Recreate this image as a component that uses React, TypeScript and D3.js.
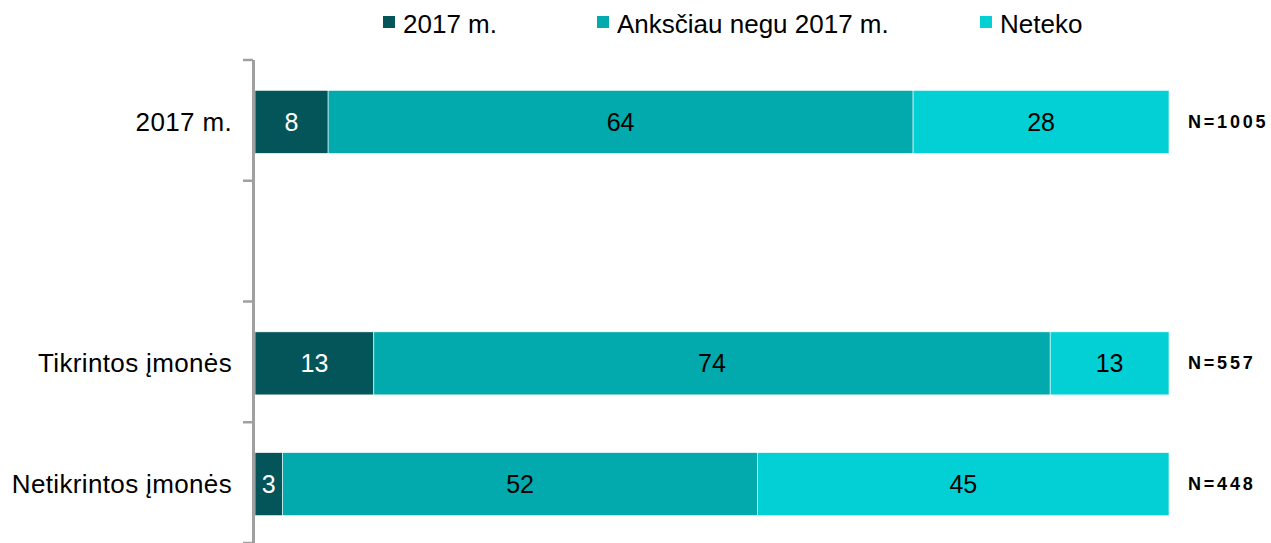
import React from "react";
import * as d3 from "d3";

const categories = ["2017 m.", "", "Tikrintos įmonės", "Netikrintos įmonės"];
const seriesNames = ["2017 m.", "Anksčiau negu 2017 m.", "Neteko"];
const seriesColors = ["#03555A", "#02A9AD", "#03D0D5"];
const labelColors = ["#ffffff", "#000000", "#000000"];
const values2017 = [8, 13, 3];
const valuesEarlier = [64, 74, 52];
const valuesNone = [28, 13, 45];
const barCategories = ["2017 m.", "Tikrintos įmonės", "Netikrintos įmonės"];
const nLabels = ["N=1005", "N=557", "N=448"];

const W = 1271;
const H = 543;
const FONT = "'Liberation Sans', Arial, sans-serif";

export default function App() {
  const x = d3.scaleLinear().domain([0, 100]).range([255, 1169]);
  const y = d3
    .scaleBand<string>()
    .domain(categories.map((c, i) => String(i)))
    .range([60, 543])
    .paddingInner(0.478)
    .paddingOuter(0.239);

  const rows = barCategories.map((c, i) => ({
    cat: c,
    idx: categories.indexOf(c),
    a: values2017[i],
    b: valuesEarlier[i],
    c2: valuesNone[i],
    n: nLabels[i],
  }));
  const stack = d3.stack<any>().keys(["a", "b", "c2"])(rows);

  const step = y.step();
  const boundaries = d3.range(categories.length + 1).map((i) => 60 + i * step);

  const legendX = [383, 597, 980];

  return (
    <svg
      width={W}
      height={H}
      style={{ position: "absolute", left: 0, top: 0, background: "#fff" }}
      fontFamily={FONT}
    >
      {/* legend */}
      {seriesNames.map((s, i) => (
        <g key={s}>
          <rect x={legendX[i]} y={16} width={12} height={12} fill={seriesColors[i]} />
          <text x={legendX[i] + 20} y={33} fontSize={26} fill="#000">
            {s}
          </text>
        </g>
      ))}

      {/* bars */}
      {stack.map((layer, si) =>
        layer.map((d: any, ri: number) => {
          const row = rows[ri];
          const yy = (y(String(row.idx)) as number) + 1.5;
          const x0 = x(d[0]);
          const x1 = x(d[1]);
          const v = d[1] - d[0];
          return (
            <g key={si + "-" + ri}>
              <rect
                x={x0}
                y={yy}
                width={x1 - x0}
                height={y.bandwidth()}
                fill={seriesColors[si]}
                stroke="#ffffff"
                strokeWidth={0.6}
              />
              <text
                x={(x0 + x1) / 2}
                y={yy + y.bandwidth() / 2 + 9}
                textAnchor="middle"
                fontSize={25}
                fill={labelColors[si]}
              >
                {v}
              </text>
            </g>
          );
        })
      )}

      {/* axis */}
      <line x1={253.5} x2={253.5} y1={60} y2={543} stroke="#a0a0a0" strokeWidth={3} />
      {boundaries.map((b, i) => (
        <line key={i} x1={243} x2={253} y1={b} y2={b} stroke="#a0a0a0" strokeWidth={2.5} />
      ))}

      {/* category labels */}
      {categories.map((c, i) =>
        c ? (
          <text
            key={i}
            x={232}
            y={(y(String(i)) as number) + 1.5 + y.bandwidth() / 2 + 9}
            textAnchor="end"
            fontSize={26}
            letterSpacing={0.35}
            fill="#000"
          >
            {c}
          </text>
        ) : null
      )}

      {/* N labels */}
      {rows.map((r) => (
        <text
          key={r.n}
          x={1188}
          y={(y(String(r.idx)) as number) + 1.5 + y.bandwidth() / 2 + 6}
          fontSize={18}
          fontWeight="bold"
          letterSpacing={2.8}
          fill="#000"
        >
          {r.n}
        </text>
      ))}
    </svg>
  );
}
